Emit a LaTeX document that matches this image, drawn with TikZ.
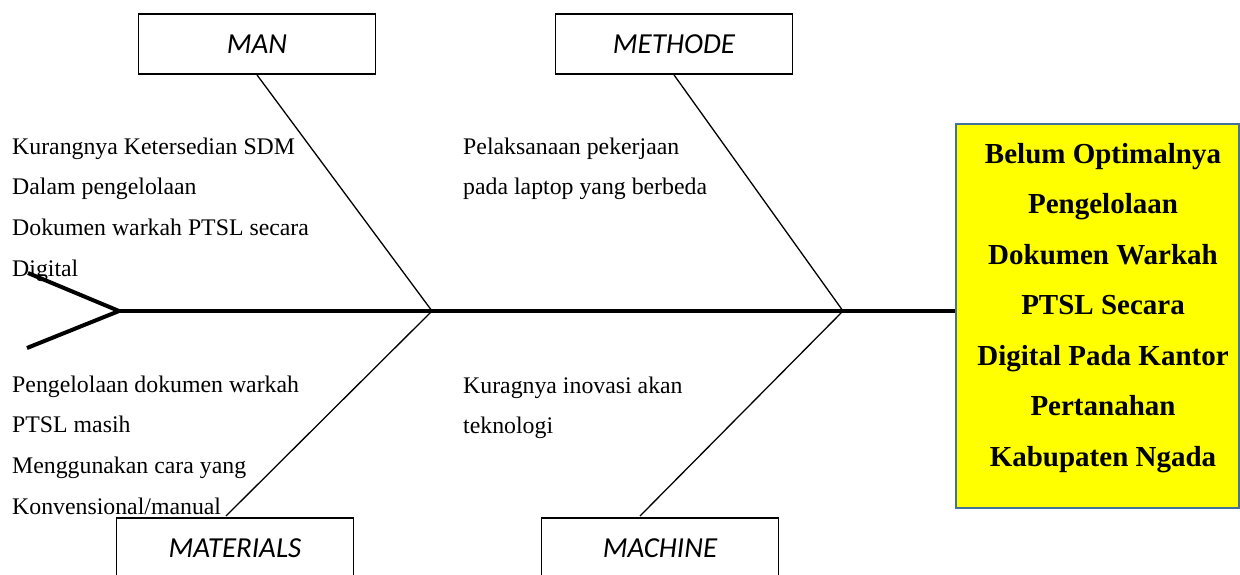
\documentclass[tikz,border=0pt]{standalone}
\usepackage{fontspec}
\setmainfont{Liberation Serif}
\newfontfamily\labelfont{Carlito}
\definecolor{effborder}{HTML}{41719C}
\definecolor{efffill}{HTML}{FFFF00}
\begin{document}
\begin{tikzpicture}[x=1pt,y=-1pt,
  catbox/.style={draw, line width=1.8pt, minimum width=237pt, minimum height=60pt, inner sep=0pt,
    font=\labelfont\itshape\fontsize{29}{29}\selectfont},
  bone/.style={line width=1.3pt},
  spine/.style={line width=4pt},
  cause/.style={anchor=north west, inner sep=0pt, align=left,
    font=\fontsize{23.8}{40.7}\selectfont},
  effbox/.style={draw=effborder, fill=efffill, line width=2pt, minimum width=283pt,
    minimum height=384pt, inner sep=0pt},
  efftext/.style={anchor=north, inner sep=0pt, align=center,
    font=\bfseries\fontsize{29}{50.5}\selectfont}]
\useasboundingbox (0,0) rectangle (1240,574);
\clip (0,0) rectangle (1240,574);

% effect box
\node[effbox] (effect) at (1097.5,316) {};
\node[efftext] (efftxt) at (1103,142) {\rule{0pt}{21pt}Belum Optimalnya\\Pengelolaan\\Dokumen Warkah\\PTSL Secara\\Digital Pada Kantor\\Pertanahan\\Kabupaten Ngada};

% category boxes
\node[catbox] (man) at (257,44) {MAN};
\node[catbox] (meth) at (674,44) {METHODE};
\node[catbox] (mat) at (235,548) {MATERIALS};
\node[catbox] (mach) at (660,548) {MACHINE};

% spine and tail
\coordinate (tail) at (119,311);
\coordinate (t1) at (28,273);
\coordinate (t2) at (27,348);
\coordinate (j1) at (432,311);
\coordinate (j2) at (843,311);
\coordinate (matend) at (226,516);
\coordinate (machend) at (640,516);
\draw[spine, line join=miter] (t1) -- (tail) -- (t2);
\draw[spine] (tail) -- (tail -| effect.west);

% bones
\draw[bone] (man.south) -- (j1);
\draw[bone] (j1) -- (matend);
\draw[bone] (meth.south) -- (j2);
\draw[bone] (j2) -- (machend);

% causes
\node[cause] (c1) at (12,137) {\rule{0pt}{17pt}Kurangnya Ketersedian SDM\\Dalam pengelolaan\\Dokumen warkah PTSL secara\\Digital};
\node[cause] (c2) at (463,137) {\rule{0pt}{17pt}Pelaksanaan pekerjaan\\pada laptop yang berbeda};
\node[cause] (c3) at (12,375) {\rule{0pt}{17pt}Pengelolaan dokumen warkah\\PTSL masih\\Menggunakan cara yang\\Konvensional/manual};
\node[cause] (c4) at (463,376) {\rule{0pt}{17pt}Kuragnya inovasi akan\\teknologi};
\end{tikzpicture}
\end{document}
